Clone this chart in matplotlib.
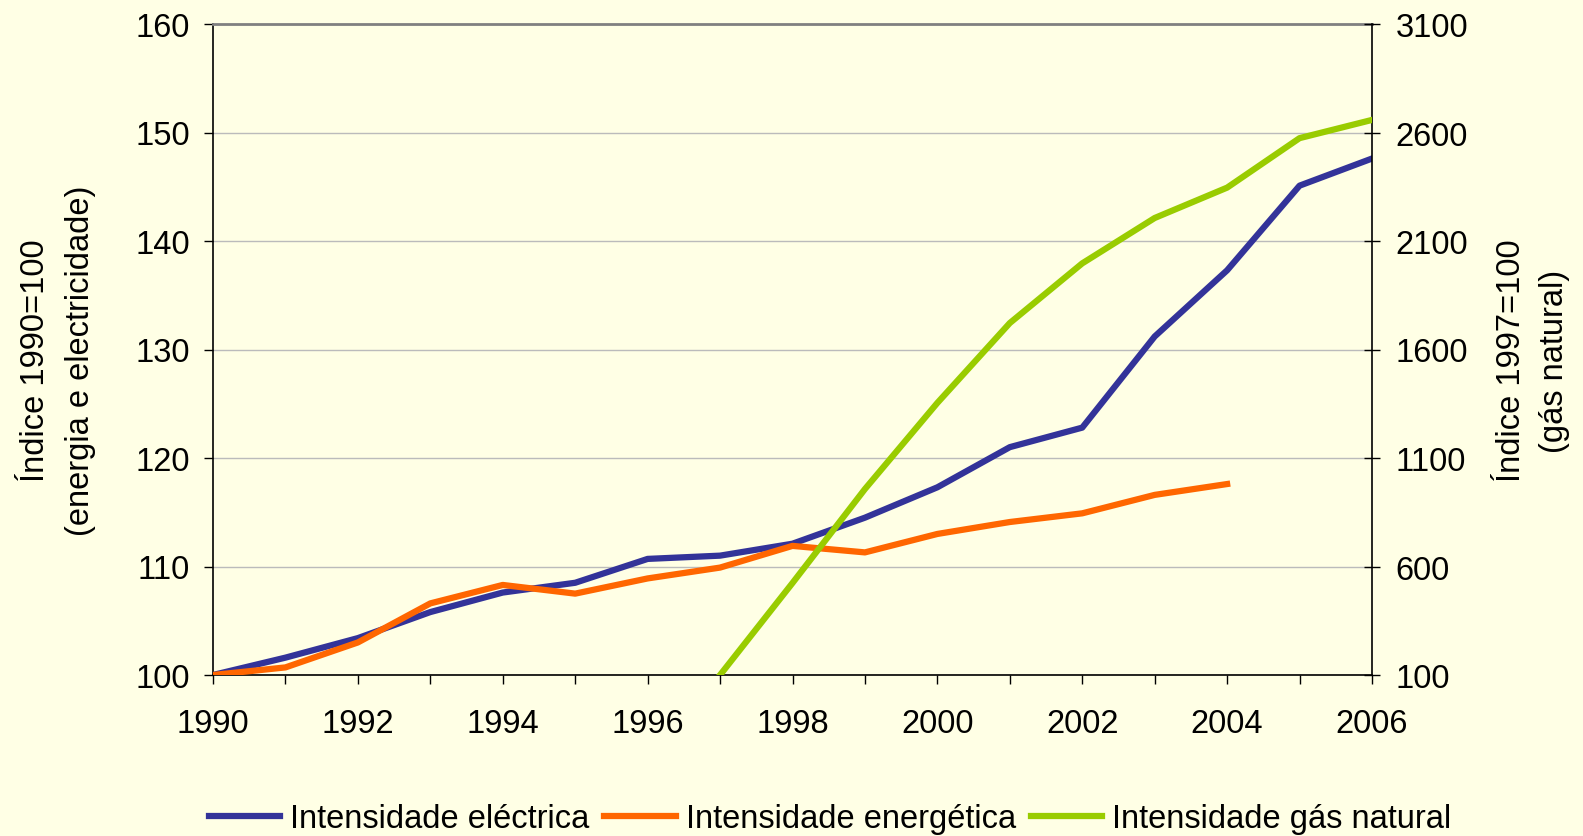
import matplotlib.pyplot as plt

plt.rcParams['font.family'] = ['Liberation Sans', 'DejaVu Sans']

# dados
anos = list(range(1990, 2007))
electrica = [100, 101.6, 103.4, 105.8, 107.6, 108.5, 110.7, 111.0, 112.1,
             114.5, 117.3, 121.0, 122.8, 131.2, 137.3, 145.1, 147.6]
anos_energ = list(range(1990, 2005))
energetica = [100, 100.7, 103.0, 106.6, 108.3, 107.5, 108.9, 109.9, 111.9,
              111.3, 113.0, 114.1, 114.9, 116.6, 117.6]
anos_gas = list(range(1997, 2007))
gas = [100, 524, 957, 1354, 1722, 1997, 2206, 2346, 2574, 2658]

fundo = '#FFFFE5'
fs = 23.5

fig = plt.figure(figsize=(15.83, 8.37), dpi=100, facecolor=fundo)
ax = fig.add_axes([213/1583, 1-676/837, (1372-213)/1583, (676-25)/837])
ax.set_facecolor(fundo)
ax2 = ax.twinx()

l1, = ax.plot(anos, electrica, color='#333399', lw=4.5, label='Intensidade eléctrica', zorder=3)
l2, = ax.plot(anos_energ, energetica, color='#FF6600', lw=4.5, label='Intensidade energética', zorder=4)
l3, = ax2.plot(anos_gas, gas, color='#99CC00', lw=4.5, label='Intensidade gás natural', zorder=5)

ax.set_xlim(1990, 2006)
ax.set_ylim(100, 160)
ax2.set_ylim(100, 3100)
ax.set_yticks(range(100, 161, 10))
ax2.set_yticks(range(100, 3101, 500))
ax.set_xticks(anos)
ax.set_xticklabels([str(a) if a % 2 == 0 else '' for a in anos])

ax.grid(axis='y', color='#BBBBBB', lw=1)
ax.set_axisbelow(True)

for s in ['left', 'bottom']:
    ax.spines[s].set_color('black')
    ax.spines[s].set_linewidth(1.2)
ax.spines['top'].set_color('#808080')
ax.spines['top'].set_linewidth(2)
ax.spines['right'].set_visible(False)
ax2.spines['right'].set_color('black')
ax2.spines['right'].set_linewidth(1.2)
for s in ['left', 'bottom', 'top']:
    ax2.spines[s].set_visible(False)

ax.tick_params(axis='y', direction='out', length=6.5, width=1, pad=10, labelsize=fs)
ax.tick_params(axis='x', direction='out', length=6.5, width=1, pad=17, labelsize=fs)
ax2.tick_params(axis='y', direction='inout', length=12, width=1, pad=11, labelsize=fs)

fig.text(36/1583, 1-361/837, 'Índice 1990=100', rotation=90, ha='center', va='center', fontsize=fs)
fig.text(81/1583, 1-361/837, '(energia e electricidade)', rotation=90, ha='center', va='center', fontsize=fs)
fig.text(1511/1583, 1-361/837, 'Índice 1997=100', rotation=90, ha='center', va='center', fontsize=fs)
fig.text(1555/1583, 1-361/837, '(gás natural)', rotation=90, ha='center', va='center', fontsize=fs)

fig.legend(handles=[l1, l2, l3], loc='center', bbox_to_anchor=(830/1583, 1-820/837),
           ncol=3, frameon=False, fontsize=fs, handlelength=2.2, handletextpad=0.3,
           columnspacing=0.45)

plt.savefig('out.png', dpi=100, facecolor=fundo)
